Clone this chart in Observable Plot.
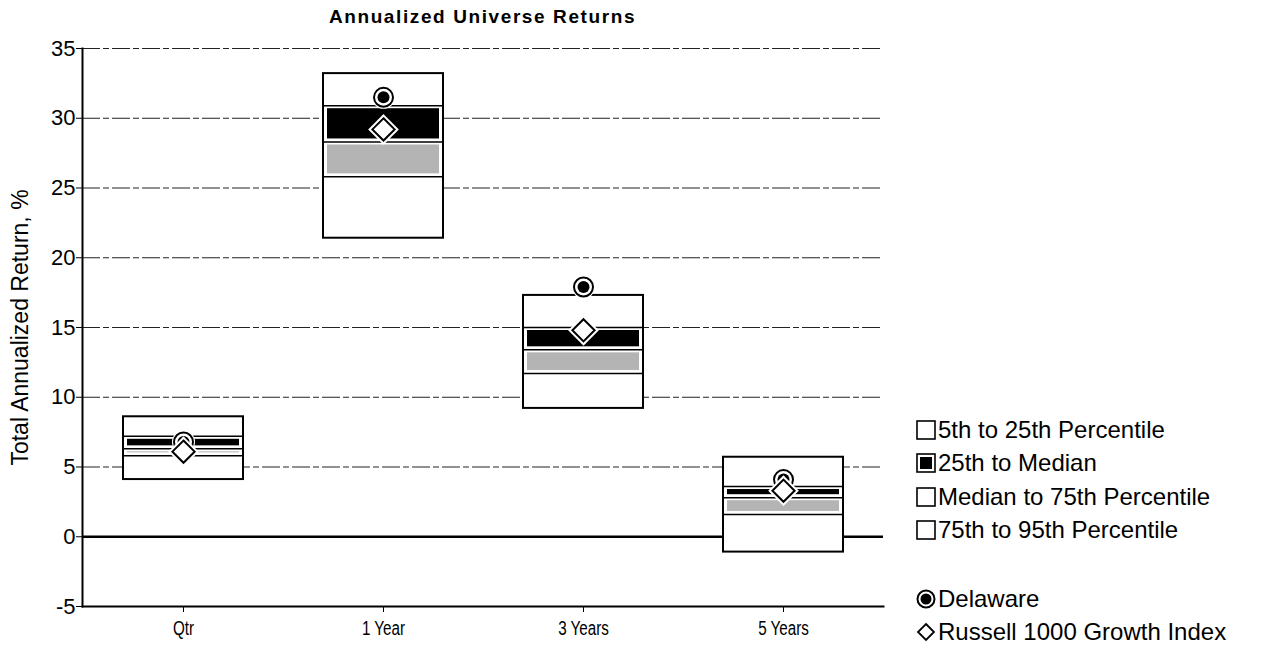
<!DOCTYPE html>
<html>
<head>
<meta charset="utf-8">
<script src="https://cdn.jsdelivr.net/npm/d3@7"></script>
<script src="https://cdn.jsdelivr.net/npm/@observablehq/plot@0.6"></script>
<style>
  html, body { margin: 0; padding: 0; background: #fff; }
  #wrap { position: relative; width: 1267px; height: 652px; overflow: hidden; font-family: "Liberation Sans", Arial, sans-serif; color: #000; }
  #title { position: absolute; top: 6px; left: 82px; width: 801px; text-align: center; font-family: "Liberation Sans", Arial, sans-serif; font-weight: bold; font-size: 19px; letter-spacing: 1.6px; }
  #chart { position: absolute; left: 0; top: 0; }
  #legend { position: absolute; left: 916px; top: 0; font-size: 24px; }
  .item { position: absolute; left: 0; white-space: nowrap; display: flex; align-items: center; height: 30px; }
  .item svg { margin-right: 2px; }
</style>
</head>
<body>
<div id="wrap">
  <div id="chart"></div>
  <div id="title">Annualized Universe Returns</div>
  <div id="legend"></div>
</div>
<script>
const categories = ["Qtr", "1 Year", "3 Years", "5 Years"];
const p5  = [8.6, 33.2, 17.3, 5.7];
const p25 = [7.2, 30.9, 15.0, 3.6];
const p50 = [6.3, 28.3, 13.4, 2.8];
const p75 = [5.8, 25.8, 11.7, 1.6];
const p95 = [4.1, 21.4, 9.2, -1.1];
const delaware = [6.8, 31.5, 17.9, 4.1];
const russell  = [6.1, 29.2, 14.8, 3.3];
const yTicks = [-5, 0, 5, 10, 15, 20, 25, 30, 35];
const gridTicks = [5, 10, 15, 20, 25, 30, 35];
const legendLabels = ["5th to 25th Percentile", "25th to Median", "Median to 75th Percentile", "75th to 95th Percentile"];
const markerLabels = ["Delaware", "Russell 1000 Growth Index"];

const rows = categories.map((c, i) => ({
  cat: c, p5: p5[i], p25: p25[i], p50: p50[i], p75: p75[i], p95: p95[i],
  del: delaware[i], rus: russell[i]
}));

const inset = 40;
const chart = Plot.plot({
  width: 900,
  height: 652,
  marginTop: 48,
  marginBottom: 46,
  marginLeft: 82,
  marginRight: 17,
  style: { fontFamily: "'Liberation Sans', Arial, sans-serif", fontSize: "20px", color: "#000", background: "transparent" },
  x: { type: "band", domain: categories, padding: 0, label: null },
  y: { domain: [-5, 35], label: null },
  marks: [
    Plot.ruleY(gridTicks, { stroke: "#222", strokeWidth: 1, strokeDasharray: "18,3,6,3" }),
    Plot.ruleY([0], { stroke: "#000", strokeWidth: 2.5 }),
    // outer box
    Plot.barY(rows, { x: "cat", y1: "p95", y2: "p5", fill: "#fff", stroke: "#000", strokeWidth: 2, insetLeft: inset, insetRight: inset }),
    // gray band median to 75th
    Plot.barY(rows, { x: "cat", y1: "p75", y2: "p50", fill: "#b4b4b4", insetLeft: inset + 4, insetRight: inset + 4, insetTop: 3, insetBottom: 3 }),
    // black band 25th to median
    Plot.barY(rows, { x: "cat", y1: "p50", y2: "p25", fill: "#000", insetLeft: inset + 4, insetRight: inset + 4, insetTop: 3, insetBottom: 3 }),
    // percentile lines
    Plot.tickY(rows, { x: "cat", y: "p25", stroke: "#000", strokeWidth: 1.5, insetLeft: inset, insetRight: inset }),
    Plot.tickY(rows, { x: "cat", y: "p50", stroke: "#000", strokeWidth: 1.5, insetLeft: inset, insetRight: inset }),
    Plot.tickY(rows, { x: "cat", y: "p75", stroke: "#000", strokeWidth: 1.5, insetLeft: inset, insetRight: inset }),
    // Delaware marker
    Plot.dot(rows, { x: "cat", y: "del", r: 11.5, fill: "#fff", stroke: "none" }),
    Plot.dot(rows, { x: "cat", y: "del", r: 9.5, fill: "#fff", stroke: "#000", strokeWidth: 2 }),
    Plot.dot(rows, { x: "cat", y: "del", r: 6, fill: "#000", stroke: "none" }),
    // Russell marker
    Plot.dot(rows, { x: "cat", y: "rus", r: 10, symbol: "diamond2", fill: "#fff", stroke: "#fff", strokeWidth: 6 }),
    Plot.dot(rows, { x: "cat", y: "rus", r: 10, symbol: "diamond2", fill: "#fff", stroke: "#000", strokeWidth: 2 }),
    // axes
    Plot.axisY({ ticks: yTicks, tickSize: 6, tickPadding: 1, tickFormat: d => String(d), label: null }),
    Plot.axisX({ tickSize: 6, tickPadding: 8, label: null }),
    Plot.frame({ anchor: "left", stroke: "#000", strokeWidth: 2 }),
    Plot.frame({ anchor: "bottom", stroke: "#000", strokeWidth: 2 }),
    Plot.text(["Total Annualized Return, %"], { frameAnchor: "left", dx: -62, rotate: -90, fontSize: 23, textAnchor: "middle", fill: "#000" })
  ]
});
document.getElementById("chart").appendChild(chart);
// tick label fonts: larger y ticks, narrow-looking x ticks
chart.querySelectorAll("text").forEach(t => {
  const s = t.textContent.trim();
  if (/^[-−]?\d+$/.test(s)) {
    t.setAttribute("font-size", "22");
    t.style.fontSize = "22px";
  } else if (categories.includes(s)) {
    t.setAttribute("font-size", "20");
    t.style.fontSize = "20px";
    const w = t.getComputedTextLength();
    t.setAttribute("textLength", (w * 0.76).toFixed(1));
    t.setAttribute("lengthAdjust", "spacingAndGlyphs");
  }
});

// legend
const legend = document.getElementById("legend");
const rowY = [415, 448, 482, 515];
function box(inner) {
  return `<svg width="20" height="20" viewBox="0 0 20 20"><rect x="1" y="1" width="18" height="18" fill="#fff" stroke="#000" stroke-width="1.6"/>${inner ? '<rect x="4" y="4" width="12" height="12" fill="#000"/>' : ''}</svg>`;
}
legendLabels.forEach((t, i) => {
  const d = document.createElement("div");
  d.className = "item";
  d.style.top = rowY[i] + "px";
  d.innerHTML = box(i === 1) + `<span>${t}</span>`;
  legend.appendChild(d);
});
const circ = `<svg width="20" height="20" viewBox="0 0 20 20"><circle cx="10" cy="10" r="8.5" fill="#fff" stroke="#000" stroke-width="2"/><circle cx="10" cy="10" r="5.5" fill="#000"/></svg>`;
const diam = `<svg width="20" height="20" viewBox="0 0 20 20"><path d="M10 2 L18 10 L10 18 L2 10 Z" fill="#fff" stroke="#000" stroke-width="1.8"/></svg>`;
[circ, diam].forEach((s, i) => {
  const d = document.createElement("div");
  d.className = "item";
  d.style.top = [584, 617][i] + "px";
  d.innerHTML = s + `<span>${markerLabels[i]}</span>`;
  legend.appendChild(d);
});
</script>
</body>
</html>
